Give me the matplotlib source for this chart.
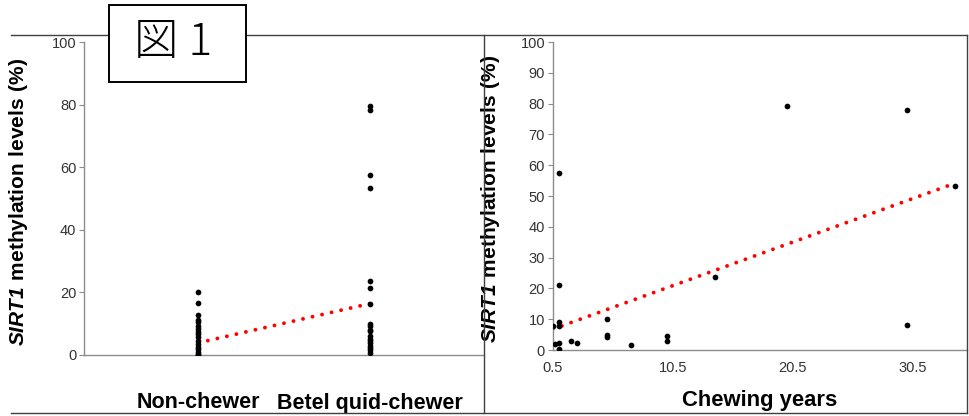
import numpy as np
import matplotlib
matplotlib.use("Agg")
import matplotlib.pyplot as plt
from matplotlib.lines import Line2D
from matplotlib.patches import Rectangle

plt.rcParams['font.family'] = ['Liberation Sans', 'DejaVu Sans']
plt.rcParams['mathtext.fontset'] = 'custom'
plt.rcParams['mathtext.bfit'] = 'Liberation Sans:bold:italic'
plt.rcParams['mathtext.bf'] = 'Liberation Sans:bold'
plt.rcParams['mathtext.rm'] = 'Liberation Sans:bold'

# ---- data (left panel) ----
groups = ["Non-chewer", "Betel quid-chewer"]
nonchewer_vals = [20.0, 16.6, 12.8, 11.2, 10.4, 9.2, 8.2, 7.4, 6.6, 5.6, 4.4, 3.4,
                  2.6, 1.8, 1.0, 0.4, 0.1]
chewer_vals = [79.5, 78.2, 57.4, 53.2, 23.6, 21.3, 16.2, 10.0, 9.2, 8.0, 7.8, 6.1,
               5.0, 4.5, 3.8, 3.0, 2.2, 1.6, 0.5]
group_trend = [3.9, 16.4]

# ---- data (right panel) ----
years = [0.5, 0.7, 1.0, 1.0, 1.0, 1.0, 1.0, 1.0, 2.0, 2.5, 5.0, 5.0, 5.0, 7.0,
         10.0, 10.0, 14.0, 20.0, 30.0, 30.0, 34.0]
meth = [7.8, 1.8, 57.4, 21.2, 9.2, 7.9, 2.2, 0.4, 3.0, 2.2, 10.0, 5.0, 4.3, 1.7,
        4.7, 3.0, 23.6, 79.3, 78.0, 8.0, 53.2]
year_ticks = [0.5, 10.5, 20.5, 30.5]
left_yticks = [0, 20, 40, 60, 80, 100]
right_yticks = [0, 10, 20, 30, 40, 50, 60, 70, 80, 90, 100]

W, H = 969, 416
fig = plt.figure(figsize=(W / 100, H / 100), dpi=100)

def fx(px):
    return px / W

def fy(py):
    return 1 - py / H

spine_c = '#8c8c8c'
tick_c = '#333333'
ylabel = r'$\mathbfit{SIRT1}\ \mathbf{methylation\ levels\ (\%)}$'

def style(ax):
    for s in ['top', 'right']:
        ax.spines[s].set_visible(False)
    for s in ['left', 'bottom']:
        ax.spines[s].set_color(spine_c)
        ax.spines[s].set_linewidth(1.0)
    ax.tick_params(axis='y', direction='out', length=3.5, width=0.8, color=spine_c,
                   labelsize=10.5, labelcolor=tick_c, pad=2)
    ax.set_ylim(0, 100)

dot_style = dict(linestyle=(0, (0.01, 2.5)), linewidth=2.8, color='#ff0000',
                 dash_capstyle='round', solid_capstyle='round')

# ---- left panel ----
ax1 = fig.add_axes([fx(84), fy(355), fx(484) - fx(84), fy(42) - fy(355)])
style(ax1)
ax1.set_xlim(0.333, 2.667)
ax1.scatter([1] * len(nonchewer_vals), nonchewer_vals, s=17, color='black', zorder=3,
            linewidths=0)
ax1.scatter([2] * len(chewer_vals), chewer_vals, s=17, color='black', zorder=3,
            linewidths=0)
ax1.plot([1, 2], group_trend, zorder=2, **dot_style)
ax1.set_yticks(left_yticks)
ax1.set_xticks([1, 2])
ax1.set_xticklabels(groups, fontsize=15.5, fontweight='bold')
ax1.tick_params(axis='x', length=0, pad=27)
ax1.set_ylabel(ylabel, fontsize=15)
ax1.yaxis.set_label_coords(-0.135, 0.49)

# ---- right panel ----
ax2 = fig.add_axes([fx(552.7), fy(350), fx(967) - fx(552.7), fy(42) - fy(350)])
style(ax2)
ax2.set_xlim(0.5, 35)
ax2.scatter(years, meth, s=17, color='black', zorder=3, linewidths=0)
coef = np.polyfit(years, meth, 1)
xt = np.array([min(years), max(years)])
ax2.plot(xt, np.polyval(coef, xt), zorder=2, **dot_style)
ax2.set_yticks(right_yticks)
ax2.set_xticks(year_ticks)
ax2.set_xticklabels([str(t) for t in year_ticks])
ax2.tick_params(axis='x', length=0, pad=8, labelsize=10.5, labelcolor=tick_c)
ax2.set_xlabel('Chewing years', fontsize=15.8, fontweight='bold', labelpad=11)
ax2.set_ylabel(ylabel, fontsize=15)
ax2.yaxis.set_label_coords(-0.122, 0.49)

# ---- frame lines ----
fc = '#404040'
for (x0, y0, x1, y1) in [(11, 35, 967, 35), (11, 413, 967, 413),
                         (484, 35, 484, 413), (967, 35, 967, 413)]:
    fig.add_artist(Line2D([fx(x0), fx(x1)], [fy(y0), fy(y1)], color=fc, lw=1.0,
                          transform=fig.transFigure, zorder=1))

# ---- title box ----
fig.add_artist(Rectangle((fx(109), fy(82)), fx(246) - fx(109), fy(5) - fy(82),
                         transform=fig.transFigure, facecolor='white',
                         edgecolor='black', lw=1.4, zorder=10))
fig.text(fx(173), fy(43), '図 1', fontsize=32, ha='center', va='center',
         family=['Noto Sans CJK JP', 'DejaVu Sans'], fontweight='light', zorder=11)

fig.savefig('out.png', dpi=100)
